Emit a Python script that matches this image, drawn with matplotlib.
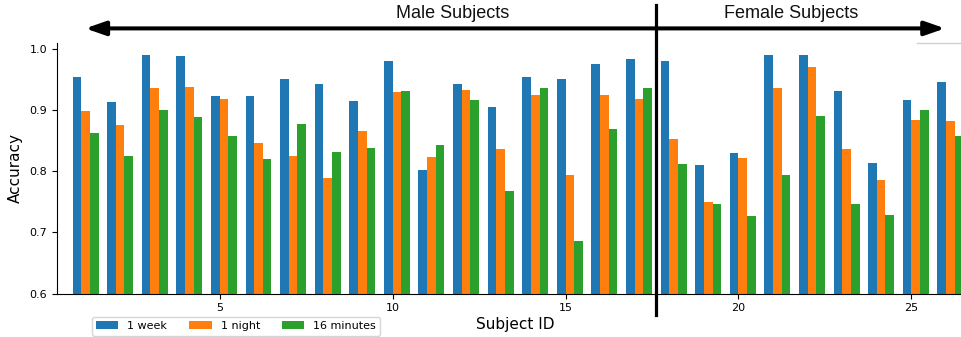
import numpy as np
import matplotlib.pyplot as plt
from matplotlib.lines import Line2D

# accuracy per subject
subjects = np.arange(1, 27)
acc_week = [0.955, 0.914, 0.991, 0.989, 0.924, 0.924, 0.952, 0.943, 0.916, 0.981,
            0.802, 0.943, 0.906, 0.955, 0.952, 0.976, 0.984,
            0.981, 0.811, 0.830, 0.991, 0.991, 0.932, 0.814, 0.917, 0.947]
acc_night = [0.899, 0.876, 0.937, 0.939, 0.919, 0.847, 0.825, 0.789, 0.866, 0.930,
             0.824, 0.934, 0.837, 0.925, 0.794, 0.925, 0.919,
             0.853, 0.750, 0.822, 0.937, 0.971, 0.837, 0.786, 0.884, 0.883]
acc_16min = [0.863, 0.825, 0.901, 0.889, 0.858, 0.820, 0.878, 0.832, 0.839, 0.932,
             0.843, 0.917, 0.768, 0.937, 0.686, 0.870, 0.937,
             0.812, 0.747, 0.727, 0.794, 0.891, 0.747, 0.729, 0.901, 0.858]
series_labels = ['1 week', '1 night', '16 minutes']
group_labels = ['Male Subjects', 'Female Subjects']
n_male = 17

fig = plt.figure(figsize=(9.61, 3.37), dpi=100)
ax = fig.add_axes([57/961, 43.5/337, 916/961, 250.8/337])

w = 0.25
for off, vals, lab in zip([-0.25, 0.0, 0.25], [acc_week, acc_night, acc_16min], series_labels):
    ax.bar(subjects + off, vals, width=w, align='edge', label=lab)

ax.set_ylim(0.6, 1.011)
ax.set_xlim(0.3, 26.78)
ax.set_xticks([5, 10, 15, 20, 25])
ax.set_yticks([0.6, 0.7, 0.8, 0.9, 1.0])
ax.tick_params(labelsize=8)
ax.spines['top'].set_visible(False)
ax.spines['right'].set_visible(False)
ax.set_xlabel('Subject ID', fontsize=11, labelpad=3)
ax.set_ylabel('Accuracy', fontsize=11, labelpad=5)

ax.legend(loc='upper left', bbox_to_anchor=(0.038, -0.093), ncol=3, fontsize=8,
          borderaxespad=0)

# divider between male and female subjects
x_split = n_male + 0.62
trans = ax.get_xaxis_transform()
ax.plot([x_split, x_split], [-0.086, 1.15], color='black', lw=2.3,
        transform=trans, clip_on=False)

# double headed arrow over the whole range
ax.annotate('', xy=(1.12, 1.057), xytext=(25.97, 1.057), xycoords=trans,
            textcoords=trans, annotation_clip=False,
            arrowprops=dict(arrowstyle='<|-|>,head_length=1.2,head_width=0.42',
                            mutation_scale=10, lw=2.9, color='black',
                            shrinkA=0, shrinkB=0))
ax.text(11.74, 1.116, group_labels[0], transform=trans, ha='center', va='center',
        fontsize=13, family='Liberation Sans', color='#111111')
ax.text(21.52, 1.116, group_labels[1], transform=trans, ha='center', va='center',
        fontsize=13, family='Liberation Sans', color='#111111')

# faint piece of the top frame visible on the right
fig.add_artist(Line2D([917/961, 1.0], [1 - 42.7/337, 1 - 42.7/337],
                      color='#d0d0d0', lw=1))

fig.savefig('out.png', dpi=100)
